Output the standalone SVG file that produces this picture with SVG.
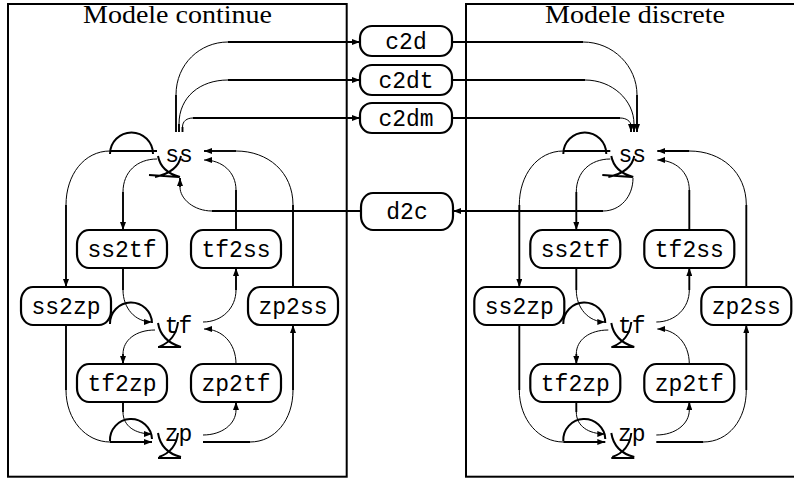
<svg xmlns="http://www.w3.org/2000/svg" width="794" height="478" viewBox="0 0 794 478">
<style>
.panel{fill:none;stroke:#000;stroke-width:2}
.box{fill:#fff;stroke:#000;stroke-width:2.2}
.lbl{font-family:"Liberation Mono","DejaVu Sans Mono",monospace;font-size:23px;text-anchor:middle;fill:#000}
.ttl{font-family:"Liberation Serif","DejaVu Serif",serif;font-size:26px;text-anchor:middle;fill:#000}
.th{fill:none;stroke:#000;stroke-width:1.9}
.tn{fill:none;stroke:#000;stroke-width:1}
.lp{fill:none;stroke:#000;stroke-width:2}
.a{marker-end:url(#ah)}
</style>
<defs>
<marker id="ah" viewBox="0 0 8 6" markerWidth="8" markerHeight="6" refX="8" refY="3" orient="auto" markerUnits="userSpaceOnUse">
<path d="M0,0 L8,3 L0,6 z" fill="#000"/>
</marker>
</defs>
<rect class="panel" x="8" y="4" width="338.7" height="472.7"/>
<rect class="panel" x="466" y="4" width="338.7" height="472.7"/>
<text class="ttl" x="177.5" y="23" textLength="189" lengthAdjust="spacingAndGlyphs">Modele continue</text>
<text class="ttl" x="635" y="23" textLength="180" lengthAdjust="spacingAndGlyphs">Modele discrete</text>

<g id="connectors-middle">
<path class="th" d="M176,132 V95"/><path class="tn" d="M176,95 C176,64 200,42 228,42"/><path class="th a" d="M228,42 H360"/>
<path class="th" d="M179,132 V124"/><path class="tn" d="M179,124 C179,97 200,80 228,80"/><path class="th a" d="M228,80 H360"/>
<path class="th" d="M182.5,132 V127"/><path class="tn" d="M182.5,127 C182.5,121 187,118 193,118"/><path class="th a" d="M193,118 H360"/>
<path class="th" d="M361,211 H212"/><path class="tn" d="M212,211 C194,211 180,199 180,187"/><path class="th a" d="M180,187 V178"/>
<path class="th" d="M452,42 H583"/><path class="tn" d="M583,42 C613,42 637,66 637,95"/><path class="th a" d="M637,95 V132"/>
<path class="th" d="M452,80 H585"/><path class="tn" d="M585,80 C612,80 634,100 634,124"/><path class="th a" d="M634,124 V132"/>
<path class="th" d="M452,118 H620"/><path class="tn" d="M620,118 C626,118 631,121 631,126"/><path class="th a" d="M631,126 V132"/>
<path class="tn" d="M633,178 C633,197 620,211 603,211"/><path class="th a" d="M603,211 H453"/>
</g>

<g id="c2d"><rect class="box" x="360" y="26" width="92" height="30" rx="12" ry="12"/><text class="lbl" x="406" y="49">c2d</text></g>
<g id="c2dt"><rect class="box" x="360" y="65" width="92" height="30" rx="12" ry="12"/><text class="lbl" x="406" y="88">c2dt</text></g>
<g id="c2dm"><rect class="box" x="360" y="103" width="92" height="30" rx="12" ry="12"/><text class="lbl" x="406" y="126">c2dm</text></g>
<g id="d2c"><rect class="box" x="361" y="193" width="92" height="37" rx="12" ry="14"/><text class="lbl" x="407" y="219">d2c</text></g>

<g id="panel-continue">
<g id="connectors-continue">
<path class="th" d="M157,151 H110"/><path class="tn" d="M110,151 C84,151 66,175 66,205"/><path class="th a" d="M66,205 V287"/>
<path class="tn" d="M157,159 C137,159 123,172 123,192"/><path class="th a" d="M123,192 V230"/>
<path class="th" d="M236,230 V190"/><path class="tn a" d="M236,190 C236,172 222,160 204,160"/>
<path class="th" d="M293,287 V205"/><path class="tn" d="M293,205 C293,172 268,151 236,151"/><path class="th a" d="M236,151 H204"/>
<path class="th" d="M123,268 V290"/><path class="tn a" d="M123,290 C123,308 135,322 152,322"/>
<path class="tn" d="M203,322 C222,322 236,308 236,290"/><path class="th a" d="M236,290 V268"/>
<path class="tn" d="M155,330 C136,330 123,340 123,354"/><path class="th a" d="M123,354 V364"/>
<path class="tn a" d="M236,364 C236,343 222,329 204,329"/>
<path class="th" d="M66,325 V390"/><path class="tn" d="M66,390 C66,420 86,442 110,442"/><path class="th a" d="M110,442 H152"/>
<path class="th" d="M123,402 V412"/><path class="tn a" d="M123,412 C123,426 135,434 152,434"/>
<path class="tn" d="M203,435 C222,435 236,424 236,410"/><path class="th a" d="M236,410 V402"/>
<path class="th" d="M203,442 H250"/><path class="tn" d="M250,442 C275,442 293,420 293,390"/><path class="th a" d="M293,390 V325"/>
<path class="lp" d="M110,154 A21.5,21.5 0 0 1 153,154"/>
<path class="lp" d="M110,324 A21,21 0 0 1 152,323"/>
<path class="lp" d="M110,441 A21,21 0 0 1 152,439"/>
<path class="lp" d="M158,156 Q161,172 180,177 M181,156 Q178,172 155,177 M149,175 L179,177"/>
<path class="lp" d="M158,323 Q161,341 181,347 M178,322 Q176,340 159,347 M158,347 H181"/>
<path class="lp" d="M158,433 Q161,452 181,457 M178,433 Q176,451 159,457 M158,458 H181"/>
</g>
<g id="c-ss"><text class="lbl" x="179" y="162">ss</text></g>
<g id="c-tf"><text class="lbl" x="178.5" y="333">tf</text></g>
<g id="c-zp"><text class="lbl" x="178.5" y="441">zp</text></g>
<g id="c-ss2tf"><rect class="box" x="77" y="230" width="90" height="38" rx="12" ry="14"/><text class="lbl" x="122" y="257">ss2tf</text></g>
<g id="c-tf2ss"><rect class="box" x="191" y="230" width="90" height="38" rx="12" ry="14"/><text class="lbl" x="236" y="257">tf2ss</text></g>
<g id="c-ss2zp"><rect class="box" x="21" y="287" width="90" height="38" rx="12" ry="14"/><text class="lbl" x="66" y="314">ss2zp</text></g>
<g id="c-zp2ss"><rect class="box" x="248" y="287" width="90" height="38" rx="12" ry="14"/><text class="lbl" x="293" y="314">zp2ss</text></g>
<g id="c-tf2zp"><rect class="box" x="77" y="364" width="90" height="38" rx="12" ry="14"/><text class="lbl" x="122" y="391">tf2zp</text></g>
<g id="c-zp2tf"><rect class="box" x="191" y="364" width="90" height="38" rx="12" ry="14"/><text class="lbl" x="236" y="391">zp2tf</text></g>
</g>

<g id="panel-discrete" transform="translate(453.3,0)">
<g id="connectors-discrete">
<path class="th" d="M157,151 H110"/><path class="tn" d="M110,151 C84,151 66,175 66,205"/><path class="th a" d="M66,205 V287"/>
<path class="tn" d="M157,159 C137,159 123,172 123,192"/><path class="th a" d="M123,192 V230"/>
<path class="th" d="M236,230 V190"/><path class="tn a" d="M236,190 C236,172 222,160 204,160"/>
<path class="th" d="M293,287 V205"/><path class="tn" d="M293,205 C293,172 268,151 236,151"/><path class="th a" d="M236,151 H204"/>
<path class="th" d="M123,268 V290"/><path class="tn a" d="M123,290 C123,308 135,322 152,322"/>
<path class="tn" d="M203,322 C222,322 236,308 236,290"/><path class="th a" d="M236,290 V268"/>
<path class="tn" d="M155,330 C136,330 123,340 123,354"/><path class="th a" d="M123,354 V364"/>
<path class="tn a" d="M236,364 C236,343 222,329 204,329"/>
<path class="th" d="M66,325 V390"/><path class="tn" d="M66,390 C66,420 86,442 110,442"/><path class="th a" d="M110,442 H152"/>
<path class="th" d="M123,402 V412"/><path class="tn a" d="M123,412 C123,426 135,434 152,434"/>
<path class="tn" d="M203,435 C222,435 236,424 236,410"/><path class="th a" d="M236,410 V402"/>
<path class="th" d="M203,442 H250"/><path class="tn" d="M250,442 C275,442 293,420 293,390"/><path class="th a" d="M293,390 V325"/>
<path class="lp" d="M110,154 A21.5,21.5 0 0 1 153,154"/>
<path class="lp" d="M110,324 A21,21 0 0 1 152,323"/>
<path class="lp" d="M110,441 A21,21 0 0 1 152,439"/>
<path class="lp" d="M158,156 Q161,172 180,177 M181,156 Q178,172 155,177 M149,175 L179,177"/>
<path class="lp" d="M158,323 Q161,341 181,347 M178,322 Q176,340 159,347 M158,347 H181"/>
<path class="lp" d="M158,433 Q161,452 181,457 M178,433 Q176,451 159,457 M158,458 H181"/>
</g>
<g id="d-ss"><text class="lbl" x="179" y="162">ss</text></g>
<g id="d-tf"><text class="lbl" x="178.5" y="333">tf</text></g>
<g id="d-zp"><text class="lbl" x="178.5" y="441">zp</text></g>
<g id="d-ss2tf"><rect class="box" x="77" y="230" width="90" height="38" rx="12" ry="14"/><text class="lbl" x="122" y="257">ss2tf</text></g>
<g id="d-tf2ss"><rect class="box" x="191" y="230" width="90" height="38" rx="12" ry="14"/><text class="lbl" x="236" y="257">tf2ss</text></g>
<g id="d-ss2zp"><rect class="box" x="21" y="287" width="90" height="38" rx="12" ry="14"/><text class="lbl" x="66" y="314">ss2zp</text></g>
<g id="d-zp2ss"><rect class="box" x="248" y="287" width="90" height="38" rx="12" ry="14"/><text class="lbl" x="293" y="314">zp2ss</text></g>
<g id="d-tf2zp"><rect class="box" x="77" y="364" width="90" height="38" rx="12" ry="14"/><text class="lbl" x="122" y="391">tf2zp</text></g>
<g id="d-zp2tf"><rect class="box" x="191" y="364" width="90" height="38" rx="12" ry="14"/><text class="lbl" x="236" y="391">zp2tf</text></g>
</g>
</svg>
